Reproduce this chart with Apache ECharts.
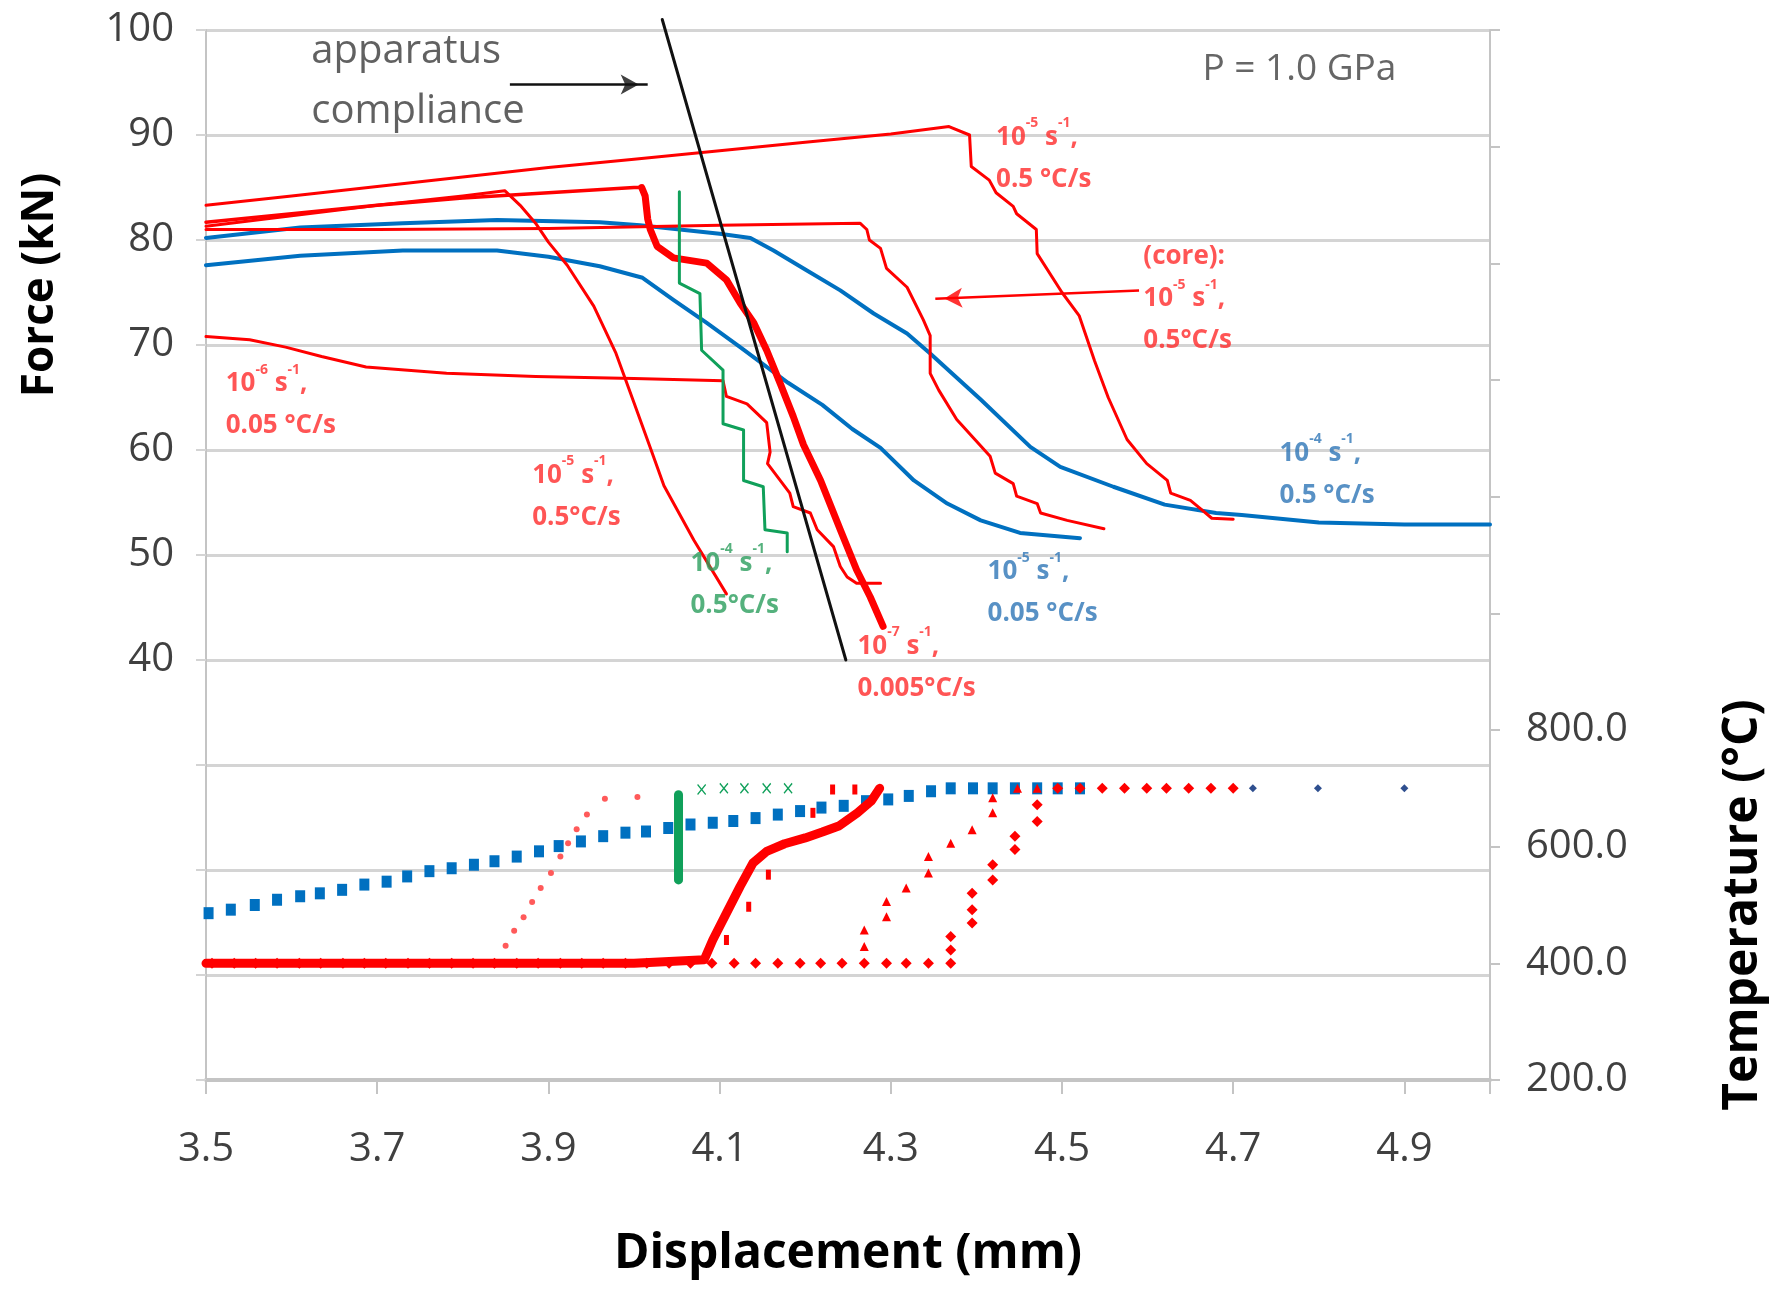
<!DOCTYPE html>
<html>
<head>
<meta charset="utf-8">
<script src="https://cdn.jsdelivr.net/npm/echarts@6/dist/echarts.min.js"></script>
<style>
  html, body { margin: 0; padding: 0; background: #ffffff; }
  #chart { width: 1775px; height: 1289px; }
</style>
</head>
<body>
<div id="chart"></div>
<script>
// ---------------------------------------------------------------------------
// Force (kN) against displacement (mm): [displacement, force] readings
// ---------------------------------------------------------------------------
// 10^-5 s^-1, 0.5 °C/s (highest peak)
const force5Fast = [
  [3.5, 83.3], [3.6, 84.2], [3.7, 85.1], [3.8, 86.0], [3.9, 86.9], [4.0, 87.7],
  [4.1, 88.5], [4.2, 89.3], [4.3, 90.1], [4.368, 90.8], [4.392, 90.0], [4.394, 87.0],
  [4.415, 85.7], [4.423, 84.5], [4.443, 83.2], [4.447, 82.5], [4.470, 81.0], [4.471, 78.7],
  [4.500, 75.0], [4.520, 72.8], [4.538, 68.5], [4.554, 65.0], [4.576, 61.0], [4.599, 58.7],
  [4.623, 57.1], [4.627, 55.9], [4.650, 55.2], [4.662, 54.4], [4.675, 53.5], [4.700, 53.4]
];
// (core): 10^-5 s^-1, 0.5 °C/s
const forceCore = [
  [3.5, 81.0], [3.7, 81.0], [3.9, 81.1], [4.1, 81.4], [4.264, 81.6], [4.272, 81.0],
  [4.275, 80.0], [4.288, 79.2], [4.295, 77.3], [4.319, 75.5], [4.338, 72.4], [4.346, 70.9],
  [4.346, 67.3], [4.356, 65.7], [4.377, 62.9], [4.416, 59.4], [4.422, 57.8], [4.443, 56.8],
  [4.447, 55.6], [4.471, 54.9], [4.475, 54.0], [4.506, 53.3], [4.549, 52.5]
];
// 10^-5 s^-1, 0.5 °C/s (earliest drop)
const force5Early = [
  [3.5, 81.3], [3.6, 82.3], [3.7, 83.3], [3.8, 84.2], [3.849, 84.7], [3.867, 83.3],
  [3.885, 81.6], [3.900, 79.8], [3.922, 77.6], [3.953, 73.7], [3.979, 69.2], [4.000, 64.5],
  [4.020, 60.0], [4.035, 56.6], [4.070, 51.4], [4.108, 46.3]
];
// 10^-7 s^-1, 0.005 °C/s
const force7 = [
  [3.5, 81.7], [3.6, 82.5], [3.7, 83.3], [3.8, 84.0], [3.9, 84.5], [4.0, 85.0],
  [4.009, 85.0], [4.013, 84.2], [4.016, 82.0], [4.019, 81.0], [4.027, 79.4], [4.046, 78.3],
  [4.085, 77.8], [4.108, 76.2], [4.124, 74.0], [4.140, 72.1], [4.155, 69.5], [4.171, 66.3],
  [4.186, 63.2], [4.198, 60.5], [4.218, 57.1], [4.241, 52.4], [4.260, 48.6], [4.276, 46.0],
  [4.291, 43.2]
];
// 10^-6 s^-1, 0.05 °C/s
const force6 = [
  [3.5, 70.8], [3.551, 70.5], [3.593, 69.8], [3.635, 68.9], [3.687, 67.9], [3.781, 67.3],
  [3.885, 67.0], [4.0, 66.8], [4.104, 66.6], [4.108, 65.1], [4.132, 64.4], [4.155, 62.6],
  [4.159, 59.8], [4.156, 58.7], [4.182, 55.9], [4.186, 54.6], [4.206, 54.0], [4.214, 52.4],
  [4.233, 50.8], [4.241, 48.9], [4.249, 47.9], [4.260, 47.3], [4.288, 47.3]
];
// 10^-5 s^-1, 0.05 °C/s (blue)
const forceBlue5 = [
  [3.5, 77.6], [3.61, 78.5], [3.73, 79.0], [3.84, 79.0], [3.90, 78.4], [3.96, 77.5],
  [4.01, 76.4], [4.046, 74.3], [4.085, 72.1], [4.124, 69.8], [4.18, 66.4], [4.22, 64.3],
  [4.255, 62.0], [4.288, 60.2], [4.327, 57.1], [4.366, 54.9], [4.405, 53.3], [4.451, 52.1],
  [4.521, 51.6]
];
// 10^-4 s^-1, 0.5 °C/s (blue)
const forceBlue4 = [
  [3.5, 80.2], [3.61, 81.2], [3.73, 81.6], [3.84, 81.9], [3.96, 81.7], [4.007, 81.4],
  [4.1, 80.6], [4.136, 80.2], [4.163, 79.0], [4.202, 77.1], [4.241, 75.2], [4.28, 73.0],
  [4.319, 71.1], [4.346, 69.2], [4.405, 64.8], [4.463, 60.3], [4.498, 58.4], [4.56, 56.5],
  [4.62, 54.8], [4.68, 54.0], [4.71, 53.8], [4.8, 53.1], [4.9, 52.9], [5.0, 52.9]
];
// 10^-4 s^-1, 0.5 °C/s (green)
const forceGreen4 = [
  [4.053, 84.6], [4.053, 75.9], [4.077, 74.9], [4.079, 69.5], [4.104, 67.6], [4.104, 62.5],
  [4.128, 61.9], [4.128, 57.1], [4.151, 56.5], [4.153, 52.4], [4.179, 52.1], [4.179, 50.3]
];
// apparatus compliance
const compliance = [[4.033, 101.0], [4.2475, 40.0]];

// ---------------------------------------------------------------------------
// Temperature (°C) against displacement (mm): [displacement, temperature]
// ---------------------------------------------------------------------------
const tempBlue = [
  [3.503, 486], [3.529, 492], [3.557, 500], [3.583, 509], [3.610, 515], [3.633, 520],
  [3.659, 526], [3.685, 535], [3.711, 540], [3.735, 549], [3.761, 558], [3.787, 563],
  [3.813, 569], [3.837, 575], [3.863, 583], [3.889, 592], [3.912, 601], [3.938, 609],
  [3.964, 618], [3.990, 624], [4.014, 626], [4.040, 632], [4.066, 638], [4.092, 641],
  [4.116, 644], [4.142, 649], [4.168, 655], [4.194, 661], [4.219, 667], [4.245, 670],
  [4.271, 678], [4.297, 681], [4.321, 687], [4.347, 695], [4.370, 700], [4.396, 700],
  [4.419, 700], [4.445, 700], [4.471, 700], [4.495, 700], [4.521, 700]
];
const tempBlueFast = [[4.723, 700], [4.799, 700], [4.900, 700]];
const temp5Fast = [
  [3.507, 400], [3.533, 400], [3.558, 400], [3.583, 400], [3.609, 400], [3.634, 400],
  [3.660, 400], [3.685, 400], [3.710, 400], [3.736, 400], [3.761, 400], [3.787, 400],
  [3.812, 400], [3.837, 400], [3.863, 400], [3.888, 400], [3.914, 400], [3.939, 400],
  [3.964, 400], [3.990, 400], [4.015, 400], [4.041, 400], [4.066, 400], [4.091, 400],
  [4.117, 400], [4.142, 400], [4.168, 400], [4.194, 400], [4.218, 400], [4.243, 400],
  [4.269, 400], [4.295, 400], [4.318, 400], [4.344, 400], [4.370, 400], [4.370, 423],
  [4.370, 446], [4.395, 469], [4.395, 492], [4.395, 520], [4.419, 543], [4.419, 569],
  [4.445, 595], [4.445, 618], [4.471, 643], [4.471, 672], [4.495, 700], [4.521, 700],
  [4.547, 700], [4.573, 700], [4.599, 700], [4.622, 700], [4.648, 700], [4.674, 700],
  [4.700, 700]
];
const tempCore = [
  [4.269, 429], [4.269, 457], [4.295, 480], [4.295, 506], [4.318, 529], [4.344, 555],
  [4.344, 583], [4.370, 606], [4.395, 629], [4.419, 658], [4.419, 684], [4.448, 700],
  [4.471, 700]
];
const temp5Early = [
  [3.850, 430], [3.860, 456], [3.871, 479], [3.881, 505], [3.891, 529], [3.903, 555],
  [3.914, 583], [3.923, 606], [3.933, 630], [3.945, 655], [3.966, 682], [4.004, 685]
];
const temp7 = [
  [3.5, 400], [3.6, 400], [3.7, 400], [3.8, 400], [3.9, 400], [4.0, 400], [4.082, 406],
  [4.092, 440], [4.108, 486], [4.124, 532], [4.139, 572], [4.155, 592], [4.176, 605],
  [4.200, 615], [4.220, 625], [4.240, 636], [4.261, 658], [4.277, 678], [4.287, 700]
];
const temp6 = [[4.108, 440], [4.134, 497], [4.157, 552], [4.209, 658], [4.232, 698], [4.258, 698]];
const tempGreenRamp = [[4.052, 543], [4.052, 600], [4.052, 650], [4.052, 689]];
const tempGreenHold = [[4.079, 698], [4.105, 700], [4.129, 700], [4.155, 700], [4.180, 700]];

// ---------------------------------------------------------------------------
// Styling
// ---------------------------------------------------------------------------
const FONT = '"Open Sans", "Noto Sans", sans-serif';
const RED = '#FF0000', BLUE = '#0070C0', GREEN = '#10A05A', BLACK = '#111111';
const RED_TXT = '#FF2A2A', BLUE_TXT = '#2E75B6', GREEN_TXT = '#2A9D5C';
const GRID_COLOR = '#D4D4D4', AXIS_COLOR = '#C4C4C4', TICK_TXT = '#404040';

const rate = (e1, e2) => `{n|10}{s|${e1}}{n| s}{s|${e2}}{n|,}`;

// text annotations anchored in data space (left edge, vertical middle)
const notes = [
  { at: [4.423, 87.8], color: RED_TXT, text: rate('-5', '-1') + '\n{n|0.5 °C/s}' },
  { at: [4.595, 74.4], color: RED_TXT, text: '{n|(core):}\n' + rate('-5', '-1') + '\n{n|0.5°C/s}' },
  { at: [3.523, 64.3], color: RED_TXT, text: rate('-6', '-1') + '\n{n|0.05 °C/s}' },
  { at: [3.881, 55.6], color: RED_TXT, text: rate('-5', '-1') + '\n{n|0.5°C/s}' },
  { at: [4.066, 47.2], color: GREEN_TXT, text: rate('-4', '-1') + '\n{n|0.5°C/s}' },
  { at: [4.261, 39.3], color: RED_TXT, text: rate('-7', '-1') + '\n{n|0.005°C/s}' },
  { at: [4.413, 46.4], color: BLUE_TXT, text: rate('-5', '-1') + '\n{n|0.05 °C/s}' },
  { at: [4.754, 57.7], color: BLUE_TXT, text: rate('-4', '-1') + '\n{n|0.5 °C/s}' },
  { at: [4.664, 96.2], color: TICK_TXT, text: '{p|P = 1.0 GPa}' },
  { at: [3.623, 95.1], color: '#3A3A3A', text: '{a|apparatus}\n{a|compliance}' }
];
// pointer arrows: apparatus compliance -> black line, (core) label -> core curve
// (rotate: heading of the arrowhead in degrees, counter-clockwise from "up")
const arrows = [
  { from: [3.855, 94.8], to: [4.016, 94.8], color: BLACK, rotate: -90 },
  { from: [4.590, 75.2], to: [4.352, 74.4], color: RED, rotate: 92.4 }
];
const HEAD_LEN = 18, HEAD_W = 15;

function richFor(color) {
  return {
    n: { fontFamily: FONT, fontSize: 26, fontWeight: 'bold', color, lineHeight: 42 },
    s: { fontFamily: FONT, fontSize: 14, fontWeight: 'bold', color, lineHeight: 20, verticalAlign: 'top' },
    p: { fontFamily: FONT, fontSize: 37, color, lineHeight: 44 },
    a: { fontFamily: FONT, fontSize: 40, color, lineHeight: 60 }
  };
}

function forceLine(name, data, color, width, extra) {
  return Object.assign({
    type: 'line', name, data, xAxisIndex: 0, yAxisIndex: 0,
    symbol: 'none', showSymbol: false, silent: true,
    itemStyle: { color },
    lineStyle: { color, width, join: 'round', cap: 'round' }, z: 3
  }, extra || {});
}
function tempMarks(name, data, symbol, size, color, z) {
  return {
    type: 'scatter', name, data, xAxisIndex: 0, yAxisIndex: 1, silent: true,
    symbol, symbolSize: size, itemStyle: { color, opacity: 1 }, z: z || 2
  };
}
function tempLine(name, data, color, width, z) {
  return {
    type: 'line', name, data, xAxisIndex: 0, yAxisIndex: 1, silent: true,
    symbol: 'none', showSymbol: false, itemStyle: { color },
    lineStyle: { color, width, join: 'round', cap: 'round' }, z: z || 2
  };
}

const CROSS = 'path://M0,1 L1,0 L5,4 L9,0 L10,1 L6,5 L10,9 L9,10 L5,6 L1,10 L0,9 L4,5 Z';

// the slow test is drawn thin before its first load drop and heavy after it
const force7Rise = force7.filter(p => p[0] <= 4.009);
const force7Drop = force7.filter(p => p[0] >= 4.009);

// arrow shafts and heads
const arrowSeries = arrows.flatMap((a, i) => {
  const rad = a.rotate * Math.PI / 180;
  // shift the head so that its tip (not its centre) sits on the end point
  const off = [Math.sin(rad) * HEAD_LEN / 2, Math.cos(rad) * HEAD_LEN / 2];
  return [
    {
      type: 'line', name: 'arrow shaft ' + i, data: [a.from, a.to],
      xAxisIndex: 0, yAxisIndex: 0, silent: true, symbol: 'none', showSymbol: false,
      itemStyle: { color: a.color }, lineStyle: { color: a.color, width: 2.5 }, z: 6
    },
    {
      type: 'scatter', name: 'arrow head ' + i, data: [a.to],
      xAxisIndex: 0, yAxisIndex: 0, silent: true,
      symbol: 'arrow', symbolSize: [HEAD_W, HEAD_LEN], symbolRotate: a.rotate,
      symbolOffset: off, itemStyle: { color: a.color }, z: 6
    }
  ];
});

const chart = echarts.init(document.getElementById('chart'), null, { renderer: 'canvas' });

chart.setOption({
  animation: false,
  backgroundColor: '#ffffff',
  textStyle: { fontFamily: FONT },
  grid: { left: 206, right: 285, top: 30, bottom: 209, containLabel: false, outerBoundsMode: 'none' },
  xAxis: {
    type: 'value', min: 3.5, max: 5.0, interval: 0.2,
    name: 'Displacement (mm)', nameLocation: 'middle', nameGap: 150,
    nameTextStyle: { fontFamily: FONT, fontSize: 48, fontWeight: 'bold', color: '#000' },
    axisLine: { show: true, onZero: false, lineStyle: { color: AXIS_COLOR, width: 4 } },
    axisTick: { show: true, length: 14, lineStyle: { color: AXIS_COLOR, width: 2 } },
    axisLabel: {
      margin: 50, fontSize: 40, color: TICK_TXT, fontFamily: FONT,
      formatter: v => (v < 4.95 ? v.toFixed(1) : '')
    },
    splitLine: { show: false }
  },
  yAxis: [
    {
      type: 'value', min: 0, max: 100, interval: 10, position: 'left',
      axisLine: { show: true, onZero: false, lineStyle: { color: AXIS_COLOR, width: 2 } },
      axisTick: { show: true, length: 10, lineStyle: { color: GRID_COLOR, width: 2 } },
      axisLabel: {
        margin: 32, fontSize: 40, color: TICK_TXT, fontFamily: FONT,
        formatter: v => (v >= 40 ? String(v) : '')
      },
      splitLine: { show: true, lineStyle: { color: GRID_COLOR, width: 3 } }
    },
    {
      type: 'value', min: 200, max: 2000, interval: 200, position: 'right',
      axisLine: { show: true, onZero: false, lineStyle: { color: AXIS_COLOR, width: 2 } },
      axisTick: { show: true, length: 10, lineStyle: { color: AXIS_COLOR, width: 2 } },
      axisLabel: {
        margin: 36, fontSize: 40, color: TICK_TXT, fontFamily: FONT,
        formatter: v => (v <= 800 ? v.toFixed(1) : '')
      },
      splitLine: { show: false }
    }
  ],
  graphic: [
    {
      type: 'text', x: 40, y: 285, rotation: Math.PI / 2, silent: true,
      style: {
        text: 'Force (kN)', font: `bold 44px ${FONT}`, fill: '#000',
        align: 'center', verticalAlign: 'middle', textAlign: 'center', textVerticalAlign: 'middle'
      }
    },
    {
      type: 'text', x: 1743, y: 905, rotation: Math.PI / 2, silent: true,
      style: {
        text: 'Temperature (°C)', font: `bold 48px ${FONT}`, fill: '#000',
        align: 'center', verticalAlign: 'middle', textAlign: 'center', textVerticalAlign: 'middle'
      }
    }
  ],
  series: [
    // temperature records (right axis)
    tempMarks('T 10^-5 0.05', tempBlue, 'rect', [10, 12], BLUE, 2),
    tempMarks('T 10^-4 0.5 blue', tempBlueFast, 'diamond', 8, '#2F4F8F', 2),
    tempMarks('T 10^-5 0.5', temp5Fast, 'diamond', 11, RED, 3),
    tempMarks('T core', tempCore, 'triangle', 9, RED, 3),
    tempMarks('T 10^-5 0.5 early', temp5Early, 'circle', 6, '#FF5A5A', 3),
    tempMarks('T 10^-6', temp6, 'rect', [5, 10], RED, 3),
    tempLine('T 10^-4 green ramp', tempGreenRamp, GREEN, 9, 3),
    tempMarks('T 10^-4 green hold', tempGreenHold, CROSS, [9, 11], GREEN, 3),
    tempLine('T 10^-7', temp7, RED, 9, 4),

    // force records (left axis)
    forceLine('10^-5 0.05', forceBlue5, BLUE, 4),
    forceLine('10^-4 0.5 blue', forceBlue4, BLUE, 4),
    forceLine('10^-6', force6, RED, 3),
    forceLine('10^-5 0.5', force5Fast, RED, 3),
    forceLine('core', forceCore, RED, 3),
    forceLine('10^-5 0.5 early', force5Early, RED, 3),
    forceLine('10^-7 rise', force7Rise, RED, 3.5),
    forceLine('10^-7 drop', force7Drop, RED, 7, { z: 4 }),
    forceLine('10^-4 green', forceGreen4, GREEN, 3, { z: 4 }),
    forceLine('compliance', compliance, BLACK, 3, { z: 5, clip: false }),

    ...arrowSeries,

    // annotations
    {
      type: 'scatter', name: 'notes', xAxisIndex: 0, yAxisIndex: 0, silent: true,
      symbolSize: 0.1, itemStyle: { color: 'rgba(0,0,0,0)' }, z: 7, clip: false,
      data: notes.map(n => ({
        value: n.at,
        label: {
          show: true, position: 'inside', align: 'left', verticalAlign: 'middle',
          formatter: n.text, rich: richFor(n.color)
        }
      }))
    }
  ]
});
</script>
</body>
</html>
